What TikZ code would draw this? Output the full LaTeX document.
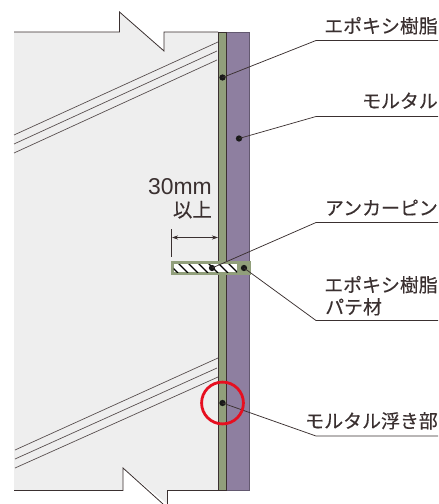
\documentclass[tikz,border=0pt]{standalone}
\usepackage{fontspec}
\setmainfont{Liberation Sans}
\newfontfamily\cjk[FakeBold=0.25]{Noto Sans CJK JP}
\definecolor{ink}{HTML}{3A3030}
\definecolor{conc}{HTML}{EEEEEE}
\definecolor{grn}{HTML}{919F7B}
\definecolor{pur}{HTML}{8E7FA0}
\definecolor{rd}{HTML}{E60F20}
\usetikzlibrary{arrows.meta}
\tikzset{
  lbl/.style={anchor=base east,inner sep=0pt,text=ink,font=\cjk\fontsize{19}{22}\selectfont},
  leader/.style={draw=ink,line width=0.75pt},
  edge/.style={draw=ink,line width=0.8pt},
  bar/.style={draw=ink!85!white,line width=0.7pt},
  pt/.style={circle,fill=black!90,inner sep=0pt,minimum size=6.3pt}
}
\begin{document}
\begin{tikzpicture}[x=1bp,y=-1bp]
\useasboundingbox (0,0) rectangle (439,504);
% concrete
\fill[conc] (14,32)--(119.5,32)--(119.5,12)--(164,51)--(164,32)--(218,32)--(218,490)--(167.5,490)--(167.5,504)--(123,468)--(123,490)--(14,490)--cycle;
\draw[edge] (14,32)--(119.5,32)--(119.5,12)--(164,51)--(164,32)--(218,32);
\draw[edge] (14,490.5)--(123,490.5)--(123,468)--(163,504);
\draw[edge] (167.5,504)--(167.5,490.5)--(218,490.5);
% rebars
\draw[bar] (14,135)--(218,42);
\draw[bar] (14,144)--(217,51);
\draw[bar] (14,153)--(217,60);
\draw[bar] (15,450)--(218,358);
\draw[bar] (15,459)--(217,368);
\draw[bar] (15,468)--(218,377);
% layers
\fill[pur] (226,32) rectangle (249,490.5);
\draw[draw=pur!70!black,line width=0.8pt] (226,32)--(249,32)--(249,490.5)--(226,490.5);
\fill[grn] (218.5,32) rectangle (226,490.5);
\draw[edge] (218.5,32)--(218.5,490.5) (226,32)--(226,490.5) (218.5,32)--(226,32) (218.5,490.5)--(226,490.5);
% pin
\fill[grn] (171,261) rectangle (251,275);
\fill[white] (173.5,264) rectangle (237,272);
\begin{scope}
\clip (173.5,264) rectangle (237,272);
\foreach \i in {0,...,7}{
  \draw[black,line width=1.3pt] ({168+10*\i},263)--({178+10*\i},273);
}
\end{scope}
% dimension
\coordinate (dimtop) at (171.5,229);
\coordinate (dimbot) at (171.5,257);
\coordinate (diml) at (172,237.5);
\coordinate (dimr) at (218,237.5);
\draw[ink,line width=0.8pt] (dimtop)--(dimbot);
\draw[ink,line width=0.7pt,{Stealth[length=6pt,width=4pt]}-{Stealth[length=6pt,width=4pt]}] (diml)--(dimr);
\node[anchor=base east,inner sep=0pt,text=ink,font=\fontsize{23}{24}\selectfont] (dimval) at (212,195) {30mm};
\node[lbl,font=\cjk\fontsize{19.5}{22}\selectfont] (dimup) at (212,217) {以上};
% labels
\node[lbl] (t1) at (438,33) {エポキシ樹脂};
\node[lbl] (t2) at (438,108) {モルタル};
\node[lbl] (t3) at (438,215) {アンカーピン};
\node[lbl] (t4) at (438,292) {エポキシ樹脂};
\node[lbl,anchor=base west] (t5) at (325,314) {パテ材};
\node[lbl] (t6) at (438,428) {モルタル浮き部};
% leaders
\node[pt] (p1) at (222.5,77.5) {};
\node[pt] (p2) at (239,138.5) {};
\node[pt] (p3) at (212,268) {};
\node[pt] (p4) at (244,268) {};
\node[pt] (p5) at (222.5,403) {};
\coordinate (e1) at (316,40.5); \coordinate (f1) at (438,40.5);
\coordinate (e2) at (316,116.5); \coordinate (f2) at (438,116.5);
\coordinate (e3) at (316,222.5); \coordinate (f3) at (438,222.5);
\coordinate (e4) at (316,320.5); \coordinate (f4) at (438,320.5);
\coordinate (e5) at (316,436); \coordinate (f5) at (438,436);
\draw[leader] (p1.center)--(e1)--(f1);
\draw[leader] (p2.center)--(e2)--(f2);
\draw[leader] (p3.center)--(e3)--(f3);
\draw[leader] (p4.center)--(e4)--(f4);
\draw[leader] (p5.center)--(e5)--(f5);
% red circle
\node[circle,draw=rd,line width=2.8pt,minimum size=42pt,inner sep=0pt] (ring) at (222.5,403) {};
\end{tikzpicture}
\end{document}
